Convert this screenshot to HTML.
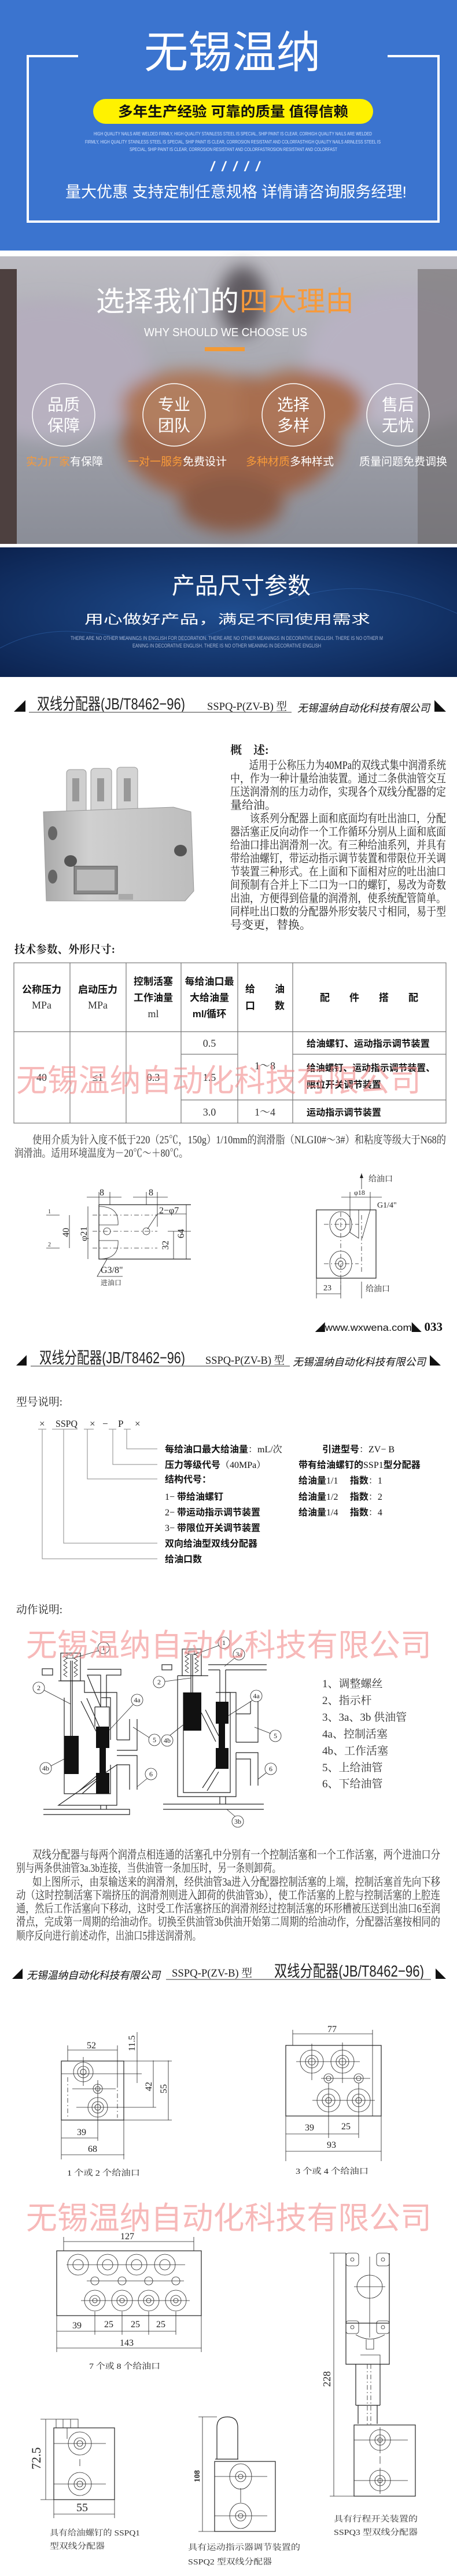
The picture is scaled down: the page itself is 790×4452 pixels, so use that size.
<!DOCTYPE html>
<html><head><meta charset="utf-8"><style>
html,body{margin:0;padding:0;background:#fff}
svg{display:block}
.s{font-family:"Liberation Sans","Noto Sans CJK SC",sans-serif}
.sf{font-family:"Liberation Serif","Noto Serif CJK SC",serif}
.b{font-weight:bold}
.ln{stroke:#222;stroke-width:1.2;fill:none}
.th{stroke:#222;stroke-width:0.8;fill:none}
.ds{stroke:#222;stroke-width:0.8;fill:none;stroke-dasharray:8 4 2 4}
.wm{font-family:"Liberation Sans","Noto Sans CJK SC",sans-serif;font-size:54px;fill:#f28c8c;opacity:.6}
</style></head><body>
<svg width="790" height="4452" viewBox="0 0 790 4452" xmlns="http://www.w3.org/2000/svg">
<defs>
<linearGradient id="pg" x1="0" y1="0" x2="0" y2="1"><stop offset="0" stop-color="#bcbbc2"/><stop offset="1" stop-color="#8a8d97"/></linearGradient>
<radialGradient id="dbg" cx="0.5" cy="0.5" r="0.7"><stop offset="0" stop-color="#1f4d8f"/><stop offset="1" stop-color="#0c2350"/></radialGradient>
<linearGradient id="mg" x1="0" y1="0" x2="1" y2="0"><stop offset="0" stop-color="#a9a9a9"/><stop offset="0.3" stop-color="#d0d0d0"/><stop offset="1" stop-color="#bdbdbd"/></linearGradient>
<filter id="bl"><feGaussianBlur stdDeviation="14"/></filter>
</defs>

<!-- Banner -->
<rect x="0" y="0" width="790" height="433" fill="#3b74cf"/>
<path d="M135 97 H48 V383 H758 V97 H670" stroke="#fff" stroke-width="4" fill="none"/>
<text class="s" x="249" y="117" font-size="76" fill="#fff" textLength="305" lengthAdjust="spacingAndGlyphs">无锡温纳</text>
<rect x="161" y="171" width="484" height="43" rx="21.5" fill="#fff200"/>
<text class="s b" x="204" y="201" font-size="24" fill="#111" textLength="398" lengthAdjust="spacingAndGlyphs">多年生产经验 可靠的质量 值得信赖</text>
<g class="s" font-size="8.5" fill="#d3e2ff">
<text x="162" y="234" textLength="481" lengthAdjust="spacingAndGlyphs">HIGH QUALITY NAILS ARE WELDED FIRMLY, HIGH QUALITY STAINLESS STEEL IS SPECIAL, SHIP PAINT IS CLEAR, CORHIGH QUALITY NAILS ARE WELDED</text>
<text x="147" y="248" textLength="511" lengthAdjust="spacingAndGlyphs">FIRMLY, HIGH QUALITY STAINLESS STEEL IS SPECIAL, SHIP PAINT IS CLEAR, CORROSION RESISTANT AND COLORFASTHIGH QUALITY NAILS ARINLESS STEEL IS</text>
<text x="224" y="261" textLength="359" lengthAdjust="spacingAndGlyphs">SPECIAL, SHIP PAINT IS CLEAR, CORROSION RESISTANT AND COLORFASTROSION RESISTANT AND COLORFAST</text>
</g>
<text class="s" x="363" y="296" font-size="24" fill="#fff" textLength="88" lengthAdjust="spacingAndGlyphs">/ / / / /</text>
<text class="s" x="113" y="341" font-size="27" fill="#fff" textLength="590" lengthAdjust="spacingAndGlyphs">量大优惠 支持定制任意规格 详情请咨询服务经理!</text>

<!-- Photo section -->
<rect x="0" y="443" width="790" height="497" fill="url(#pg)"/>
<g filter="url(#bl)">
<ellipse cx="90" cy="640" rx="170" ry="120" fill="#b4adbd"/>
<ellipse cx="700" cy="620" rx="170" ry="120" fill="#b8b2c2"/>
<ellipse cx="400" cy="760" rx="190" ry="110" fill="#9b6448"/>
<ellipse cx="330" cy="700" rx="120" ry="60" fill="#ad7656"/>
<ellipse cx="520" cy="700" rx="110" ry="60" fill="#a86e50"/>
<ellipse cx="400" cy="870" rx="90" ry="50" fill="#8a5a45"/>
<ellipse cx="420" cy="520" rx="40" ry="60" fill="#5e5a60"/>
</g>
<rect x="0" y="465" width="29" height="475" fill="#4d403f"/>
<rect x="722" y="465" width="68" height="475" fill="#6a6464" opacity=".55"/>
<text class="s" font-size="48" y="537" x="166"><tspan fill="#fff" textLength="247" lengthAdjust="spacingAndGlyphs">选择我们的</tspan><tspan fill="#f79a3a" x="414" textLength="198" lengthAdjust="spacingAndGlyphs">四大理由</tspan></text>
<text class="s" x="249" y="581" font-size="20" fill="#fff" textLength="282" lengthAdjust="spacingAndGlyphs">WHY SHOULD WE CHOOSE US</text>
<rect x="354" y="600" width="69" height="7" fill="#f39a35"/>
<g stroke="#fff" stroke-width="1.5" fill="rgba(255,255,255,0.06)">
<circle cx="110" cy="717" r="54"/><circle cx="301" cy="717" r="54"/><circle cx="507" cy="717" r="54"/><circle cx="688" cy="717" r="54"/>
</g>
<g class="s" font-size="28" fill="#fff" text-anchor="middle">
<text x="110" y="709">品质</text><text x="110" y="745">保障</text>
<text x="301" y="709">专业</text><text x="301" y="745">团队</text>
<text x="507" y="709">选择</text><text x="507" y="745">多样</text>
<text x="688" y="709">售后</text><text x="688" y="745">无忧</text>
</g>
<g class="s" font-size="19">
<text x="45" y="804"><tspan fill="#f79a3a">实力厂家</tspan><tspan fill="#fff">有保障</tspan></text>
<text x="221" y="804"><tspan fill="#f79a3a">一对一服务</tspan><tspan fill="#fff">免费设计</tspan></text>
<text x="425" y="804"><tspan fill="#f79a3a">多种材质</tspan><tspan fill="#fff">多种样式</tspan></text>
<text x="621" y="804" fill="#fff">质量问题免费调换</text>
</g>

<!-- Dark blue -->
<rect x="0" y="946" width="790" height="224" fill="url(#dbg)"/>
<path d="M0 1120 C150 1040 250 1160 400 1080 S650 1000 790 1060" stroke="#2f62aa" stroke-width="1" fill="none" opacity=".6"/>
<text class="s" x="297" y="1026" font-size="40" fill="#fff" textLength="240" lengthAdjust="spacingAndGlyphs">产品尺寸参数</text>
<text class="s" x="146" y="1078" font-size="22" fill="#fff" textLength="494" lengthAdjust="spacingAndGlyphs">用心做好产品，满足不同使用需求</text>
<g class="s" font-size="9" fill="#a9b8d6">
<text x="122" y="1106" textLength="540" lengthAdjust="spacingAndGlyphs">THERE ARE NO OTHER MEANINGS IN ENGLISH FOR DECORATION. THERE ARE NO OTHER MEANINGS IN DECORATIVE ENGLISH. THERE IS NO OTHER M</text>
<text x="229" y="1119" textLength="326" lengthAdjust="spacingAndGlyphs">EANING IN DECORATIVE ENGLISH. THERE IS NO OTHER MEANING IN DECORATIVE ENGLISH</text>
</g>

<!-- Header 1 -->
<polygon points="24,1230 44,1210 44,1230" fill="#111"/>
<text class="s" x="64" y="1226" font-size="28" fill="#222" textLength="256" lengthAdjust="spacingAndGlyphs">双线分配器(JB/T8462−96)</text>
<line x1="50" y1="1231" x2="504" y2="1231" stroke="#999" stroke-width="2"/>
<text class="sf" x="358" y="1227" font-size="19" fill="#222" textLength="138" lengthAdjust="spacingAndGlyphs">SSPQ-P(ZV-B) 型</text>
<text class="s" x="514" y="1230" font-size="18" font-style="italic" fill="#111" textLength="229" lengthAdjust="spacingAndGlyphs">无锡温纳自动化科技有限公司</text>
<polygon points="751,1210 751,1230 771,1230" fill="#111"/>

<!-- product photo -->
<g>
<rect x="115" y="1330" width="34" height="80" rx="6" fill="#cfcfcf" stroke="#999"/>
<rect x="157" y="1328" width="36" height="82" rx="6" fill="#d4d4d4" stroke="#999"/>
<rect x="202" y="1326" width="36" height="84" rx="6" fill="#d4d4d4" stroke="#999"/>
<rect x="125" y="1345" width="12" height="40" fill="#999"/><rect x="168" y="1345" width="12" height="40" fill="#999"/><rect x="214" y="1345" width="12" height="40" fill="#999"/>
<polygon points="75,1403 300,1395 330,1403 335,1540 320,1557 80,1557" fill="url(#mg)" stroke="#999"/>
<ellipse cx="91" cy="1440" rx="8" ry="12" fill="#666"/><ellipse cx="91" cy="1515" rx="8" ry="12" fill="#666"/>
<ellipse cx="122" cy="1488" rx="11" ry="10" fill="#555"/><ellipse cx="312" cy="1470" rx="11" ry="10" fill="#555"/>
<rect x="128" y="1497" width="75" height="48" fill="#888" stroke="#555"/>
<rect x="133" y="1503" width="65" height="36" fill="#bbb"/>
<rect x="205" y="1545" width="25" height="10" fill="#aaa"/>
</g>

<!-- Overview -->
<g class="sf" font-size="20" fill="#222">
<text x="398" y="1303" class="b" font-weight="bold">概　述:</text>
<text x="398" y="1329" textLength="373" lengthAdjust="spacingAndGlyphs">　　适用于公称压力为40MPa的双线式集中润滑系统</text>
<text x="398" y="1352" textLength="373" lengthAdjust="spacingAndGlyphs">中，作为一种计量给油装置。通过二条供油管交互</text>
<text x="398" y="1375" textLength="373" lengthAdjust="spacingAndGlyphs">压送润滑剂的压力动作，实现各个双线分配器的定</text>
<text x="398" y="1398">量给油。</text>
<text x="398" y="1421" textLength="373" lengthAdjust="spacingAndGlyphs">　　该系列分配器上面和底面均有吐出油口，分配</text>
<text x="398" y="1444" textLength="373" lengthAdjust="spacingAndGlyphs">器活塞正反向动作一个工作循环分别从上面和底面</text>
<text x="398" y="1467" textLength="373" lengthAdjust="spacingAndGlyphs">给油口排出润滑剂一次。有三种给油系列，并具有</text>
<text x="398" y="1490" textLength="373" lengthAdjust="spacingAndGlyphs">带给油螺钉，带运动指示调节装置和带限位开关调</text>
<text x="398" y="1513" textLength="373" lengthAdjust="spacingAndGlyphs">节装置三种形式。在上面和下面相对应的吐出油口</text>
<text x="398" y="1536" textLength="373" lengthAdjust="spacingAndGlyphs">间预制有合并上下二口为一口的螺钉，易改为奇数</text>
<text x="398" y="1559" textLength="373" lengthAdjust="spacingAndGlyphs">出油，方便得到倍量的润滑剂，使系统配管简单。</text>
<text x="398" y="1582" textLength="373" lengthAdjust="spacingAndGlyphs">同样吐出口数的分配器外形安装尺寸相同，易于型</text>
<text x="398" y="1605">号变更，替换。</text>
</g>
<text class="sf b" x="25" y="1647" font-size="19" fill="#222" textLength="174" lengthAdjust="spacingAndGlyphs">技术参数、外形尺寸:</text>

<!-- Table -->
<g stroke="#777" stroke-width="1.2" fill="none">
<rect x="24" y="1664" width="747" height="277"/>
<line x1="24" y1="1783" x2="771" y2="1783"/>
<line x1="121" y1="1664" x2="121" y2="1941"/><line x1="218" y1="1664" x2="218" y2="1941"/>
<line x1="313" y1="1664" x2="313" y2="1941"/><line x1="411" y1="1664" x2="411" y2="1941"/>
<line x1="506" y1="1664" x2="506" y2="1941"/>
<line x1="313" y1="1822" x2="411" y2="1822"/><line x1="506" y1="1822" x2="771" y2="1822"/>
<line x1="313" y1="1901" x2="771" y2="1901"/>
</g>
<g class="s b" font-size="17" fill="#111" text-anchor="middle">
<text x="72" y="1716">公称压力</text><text x="169" y="1716">启动压力</text>
<text x="265" y="1702">控制活塞</text><text x="265" y="1730">工作油量</text>
<text x="362" y="1702">每给油口最</text><text x="362" y="1730">大给油量</text><text x="362" y="1758">ml/循环</text>
<text x="458" y="1715">给　　油</text><text x="458" y="1744">口　　数</text>
<text x="638" y="1730">配　　件　　搭　　配</text>
</g>
<g class="sf" font-size="18" fill="#333" text-anchor="middle">
<text x="72" y="1743">MPa</text><text x="169" y="1743">MPa</text><text x="265" y="1758">ml</text>
<text x="72" y="1868">40</text><text x="169" y="1868">≤1</text><text x="265" y="1868">0.3</text>
<text x="362" y="1809">0.5</text><text x="362" y="1868">1.5</text><text x="362" y="1928">3.0</text>
<text x="458" y="1848">1～8</text><text x="458" y="1928">1～4</text>
</g>
<g class="s b" font-size="16" fill="#111">
<text x="530" y="1809" textLength="213" lengthAdjust="spacingAndGlyphs">给油螺钉、运动指示调节装置</text>
<text x="530" y="1851" textLength="222" lengthAdjust="spacingAndGlyphs">给油螺钉、运动指示调节装置、</text>
<text x="530" y="1880" textLength="129" lengthAdjust="spacingAndGlyphs">限位开关调节装置</text>
<text x="530" y="1928" textLength="129" lengthAdjust="spacingAndGlyphs">运动指示调节装置</text>
</g>
<text class="wm" x="28" y="1886" textLength="700" lengthAdjust="spacingAndGlyphs">无锡温纳自动化科技有限公司</text>
<g class="sf" font-size="19" fill="#333">
<text x="56" y="1976" textLength="715" lengthAdjust="spacingAndGlyphs">使用介质为针入度不低于220（25℃，150g）1/10mm的润滑脂（NLGI0#～3#）和粘度等级大于N68的</text>
<text x="25" y="1999" textLength="300" lengthAdjust="spacingAndGlyphs">润滑油。适用环境温度为－20℃～＋80℃。</text>
</g>

<!-- Drawing A -->
<g>
<path class="ln" d="M171 2082 H330 M171 2082 V2176 H272 M171 2176 H330"/>
<path class="th" d="M171 2085 C200 2085 205 2100 204 2117 H171 M171 2144 H204 C205 2160 200 2176 171 2176"/>
<circle class="th" cx="185" cy="2128" r="6"/><circle class="th" cx="253" cy="2128" r="6"/>
<path class="ds" d="M160 2100 H272 M160 2128 H272 M160 2157 H272"/>
<path class="th" d="M171 2060 V2082 M190 2060 V2082 M253 2060 V2082 M272 2060 V2120 M150 2069 H210 M230 2069 H290"/>
<path class="th" d="M120 2100 V2157 M152 2085 V2176 M300 2128 V2176 M322 2082 V2176 M290 2128 H330 M290 2176 H330"/>
<path class="th" d="M80 2100 H103 M80 2157 H103 M255 2124 L272 2098 H322 M185 2176 L168 2206 H212"/>
<g class="sf" font-size="16" fill="#222">
<text x="172" y="2066">8</text><text x="257" y="2066">8</text>
<text x="275" y="2097">2−φ7</text>
<text x="174" y="2200">G3/8"</text>
<text x="174" y="2221" font-size="12">进油口</text>
<text x="83" y="2097" font-size="10">1</text><text x="83" y="2154" font-size="10">2</text>
<text transform="translate(119,2138) rotate(-90)">40</text>
<text transform="translate(150,2145) rotate(-90)">φ21</text>
<text transform="translate(318,2140) rotate(-90)">64</text>
<text transform="translate(291,2160) rotate(-90)">32</text>
</g>
</g>
<!-- Drawing B -->
<g>
<rect class="ln" x="547" y="2091" width="103" height="118"/>
<ellipse class="th" cx="589" cy="2116" rx="19" ry="22"/><ellipse class="th" cx="589" cy="2116" rx="9" ry="10"/>
<ellipse class="th" cx="589" cy="2184" rx="19" ry="22"/><ellipse class="th" cx="589" cy="2184" rx="9" ry="10"/><ellipse class="th" cx="589" cy="2184" rx="4" ry="5"/>
<path class="th" d="M605 2091 V2130 L620 2140 V2091 M640 2091 L626 2140"/>
<path class="ds" d="M589 2095 V2230 M625 2100 V2200 M560 2116 H620 M560 2184 H620"/>
<path class="th" d="M625 2028 V2055 M605 2060 V2091 M640 2060 V2091 M590 2069 H660 M547 2209 V2244 M589 2209 V2244 M547 2236 H589 M625 2215 V2244"/>
<polygon points="622,2036 625,2028 628,2036" fill="#222"/>
<g class="sf" font-size="14" fill="#222">
<text x="637" y="2042">给油口</text><text x="612" y="2065" font-size="12">φ18</text>
<text x="652" y="2087">G1/4"</text><text x="559" y="2230">23</text><text x="632" y="2232">给油口</text>
</g>
</g>
<text class="s" x="765" y="2300" font-size="17" fill="#111" text-anchor="end"><tspan>◢</tspan><tspan textLength="150" lengthAdjust="spacingAndGlyphs">www.wxwena.com</tspan><tspan>◣ </tspan><tspan class="sf b" font-size="21">033</tspan></text>

<!-- Header 2 -->
<polygon points="28,2360 46,2342 46,2360" fill="#111"/>
<text class="s" x="68" y="2356" font-size="28" fill="#222" textLength="252" lengthAdjust="spacingAndGlyphs">双线分配器(JB/T8462−96)</text>
<line x1="53" y1="2361" x2="501" y2="2361" stroke="#999" stroke-width="2"/>
<text class="sf" x="355" y="2357" font-size="19" fill="#222" textLength="137" lengthAdjust="spacingAndGlyphs">SSPQ-P(ZV-B) 型</text>
<text class="s" x="506" y="2360" font-size="18" font-style="italic" fill="#111" textLength="230" lengthAdjust="spacingAndGlyphs">无锡温纳自动化科技有限公司</text>
<polygon points="743,2342 743,2360 762,2360" fill="#111"/>

<text class="sf" x="28" y="2429" font-size="19" fill="#222" textLength="80" lengthAdjust="spacingAndGlyphs">型号说明:</text>
<g class="sf" font-size="17" fill="#222">
<text x="68" y="2466">×</text><text x="96" y="2466" textLength="38" lengthAdjust="spacingAndGlyphs">SSPQ</text>
<text x="155" y="2466">×</text><text x="177" y="2466">−</text><text x="204" y="2466">P</text><text x="233" y="2466">×</text>
</g>
<path stroke="#888" stroke-width="1" fill="none" d="M66 2470 H80 M90 2470 H134 M145 2470 H162 M188 2470 H201 M214 2470 H226 M219 2470 V2504 H272 M195 2470 V2531 H272 M151 2470 V2556 H272 M110 2470 V2667 H272 M73 2470 V2694 H272"/>
<g class="s b" font-size="16" fill="#111">
<text x="285" y="2510">每给油口最大给油量<tspan class="sf" font-weight="normal">：mL/次</tspan></text>
<text x="285" y="2537">压力等级代号<tspan class="sf" font-weight="normal">（40MPa）</tspan></text>
<text x="285" y="2562">结构代号：</text>
<text x="285" y="2592"><tspan class="sf" font-weight="normal">1− </tspan>带给油螺钉</text>
<text x="285" y="2619"><tspan class="sf" font-weight="normal">2− </tspan>带运动指示调节装置</text>
<text x="285" y="2646"><tspan class="sf" font-weight="normal">3− </tspan>带限位开关调节装置</text>
<text x="285" y="2673">双向给油型双线分配器</text>
<text x="285" y="2700">给油口数</text>
<text x="557" y="2510">引进型号<tspan class="sf" font-weight="normal">：ZV− B</tspan></text>
<text x="516" y="2537">带有给油螺钉的<tspan class="sf" font-weight="normal">SSP1</tspan>型分配器</text>
<text x="516" y="2564">给油量<tspan class="sf" font-weight="normal">1/1　</tspan> 指数<tspan class="sf" font-weight="normal">：1</tspan></text>
<text x="516" y="2592">给油量<tspan class="sf" font-weight="normal">1/2　</tspan> 指数<tspan class="sf" font-weight="normal">：2</tspan></text>
<text x="516" y="2619">给油量<tspan class="sf" font-weight="normal">1/4　</tspan> 指数<tspan class="sf" font-weight="normal">：4</tspan></text>
</g>
<text class="sf" x="28" y="2788" font-size="19" fill="#222" textLength="80" lengthAdjust="spacingAndGlyphs">动作说明:</text>

<!-- Action diagrams -->
<g>
<!-- left -->
<rect class="ln" x="105" y="2857" width="34" height="48"/>
<path class="th" d="M110 2862 l6 4 -6 4 6 4 -6 4 6 4 -6 4 6 4 -6 4 6 4 M134 2862 l-6 4 6 4 -6 4 6 4 -6 4 6 4 -6 4 6 4 -6 4"/>
<rect class="th" x="116" y="2860" width="10" height="6"/>
<line class="ln" x1="122" y1="2870" x2="122" y2="3000"/><line class="ln" x1="125" y1="2870" x2="125" y2="3000"/>
<path class="ln" d="M101 2905 H146 V2925 H202 V3007 M202 3050 V3120 H101 Z"/>
<path class="ln" d="M111 2934 V3100 H191 V3050 M191 3007 V2934 H175"/>
<rect x="111" y="3000" width="25" height="66" fill="#111"/>
<rect x="166" y="2984" width="23" height="37" fill="#111"/><rect x="172" y="3021" width="11" height="43" fill="#111"/><rect x="166" y="3064" width="23" height="36" fill="#111"/>
<path class="ln" d="M151 2885 H209 V2895 H184 V2950 M174 2950 V2895 H151 Z M164 2950 H189 V2984 M164 2950 V2984"/>
<path class="ln" d="M140 2940 L166 2992 M150 2935 L172 2985 M137 3095 L166 3070 M142 3100 L170 3075"/>
<path class="ln" d="M202 3007 H224 V2971 M237 2971 V3025 H202 M202 3034 H237 V3093 M224 3093 V3050 H202"/>
<path class="ln" d="M75 3127 H224 V3136 H75 M174 3120 V3127 M184 3120 V3127"/>
<rect class="ln" x="73" y="2884" width="18" height="11"/>
<!-- middle -->
<rect class="ln" x="315" y="2850" width="33" height="46"/>
<path class="th" d="M320 2855 l6 4 -6 4 6 4 -6 4 6 4 -6 4 6 4 -6 4 6 4 M343 2855 l-6 4 6 4 -6 4 6 4 -6 4 6 4 -6 4 6 4 -6 4"/>
<rect class="th" x="326" y="2853" width="10" height="6"/>
<line class="ln" x1="330" y1="2860" x2="330" y2="2925"/><line class="ln" x1="333" y1="2860" x2="333" y2="2925"/>
<path class="ln" d="M307 2896 H360 M307 2896 V3105 H408 V3029 M408 3011 V2925 H390"/>
<path class="ln" d="M317 2925 V3098 H398 V2925 H373"/>
<rect x="317" y="2925" width="31" height="66" fill="#111"/>
<rect x="373" y="2941" width="22" height="38" fill="#111"/><rect x="378" y="2979" width="11" height="42" fill="#111"/><rect x="373" y="3021" width="22" height="36" fill="#111"/>
<path class="ln" d="M360 2877 H461 M360 2886 H380 M390 2886 H461 M380 2886 V2941 M390 2886 V2941"/>
<path class="ln" d="M348 2960 L373 3010 M355 2955 L378 3000 M350 3090 L373 3055 M358 3095 L378 3062"/>
<path class="ln" d="M408 2962 H433 M446 2962 V3011 H408 M433 2962 V2940 M446 2962 V2940 M408 3029 H446 V3086 M433 3086 V3040 H408"/>
<path class="ln" d="M282 3118 H456 M282 3127 H456 M380 3105 V3118 M390 3105 V3118"/>
<rect class="ln" x="280" y="2877" width="17" height="9"/>
<g class="th"><circle cx="179" cy="2848" r="10"/><circle cx="67" cy="2917" r="10"/><circle cx="237" cy="2938" r="10"/><circle cx="79" cy="3056" r="10"/><circle cx="267" cy="3007" r="10"/><circle cx="261" cy="3066" r="10"/>
<circle cx="387" cy="2839" r="10"/><circle cx="413" cy="2859" r="10"/><circle cx="275" cy="2907" r="10"/><circle cx="443" cy="2931" r="10"/><circle cx="289" cy="3008" r="10"/><circle cx="476" cy="3000" r="10"/><circle cx="468" cy="3057" r="10"/><circle cx="411" cy="3148" r="10"/>
<path d="M170 2853 L126 2866 M76 2921 L122 2945 M230 2946 L189 2990 M88 3052 L111 3040 M258 3003 L230 2985 M254 3074 L237 3088 M378 2844 L335 2860 M405 2866 L388 2880 M285 2906 L330 2900 M436 2939 L395 2965 M294 2999 L318 2980 M468 2996 L440 2985 M460 3064 L446 3075 M406 3139 L392 3127"/></g>
<g class="sf" font-size="12" fill="#222" text-anchor="middle">
<text x="179" y="2852">1</text><text x="67" y="2921">2</text><text x="237" y="2942">4a</text><text x="79" y="3060">4b</text><text x="267" y="3011">5</text><text x="261" y="3070">6</text>
<text x="387" y="2843">1</text><text x="413" y="2863">3a</text><text x="275" y="2911">2</text><text x="443" y="2935">4a</text><text x="289" y="3012">4b</text><text x="476" y="3004">5</text><text x="468" y="3061">6</text><text x="411" y="3152">3b</text>
</g>
</g>
<text class="wm" x="45" y="2862" textLength="701" lengthAdjust="spacingAndGlyphs">无锡温纳自动化科技有限公司</text>
<g class="sf" font-size="19" fill="#333">
<text x="557" y="2916">1、调整螺丝</text><text x="557" y="2945">2、指示杆</text><text x="557" y="2974">3、3a、3b 供油管</text>
<text x="557" y="3003">4a、控制活塞</text><text x="557" y="3032">4b、工作活塞</text><text x="557" y="3061">5、上给油管</text><text x="557" y="3089">6、下给油管</text>
</g>
<g class="sf" font-size="19.8" fill="#333">
<text x="56" y="3212" textLength="705" lengthAdjust="spacingAndGlyphs">双线分配器与每两个润滑点相连通的活塞孔中分别有一个控制活塞和一个工作活塞，两个进油口分</text>
<text x="28" y="3235" textLength="458" lengthAdjust="spacingAndGlyphs">别与两条供油管3a.3b连接，当供油管一条加压时，另一条则卸荷。</text>
<text x="56" y="3259" textLength="705" lengthAdjust="spacingAndGlyphs">如上图所示，由泵输送来的润滑剂，经供油管3a进入分配器控制活塞的上端，控制活塞首先向下移</text>
<text x="28" y="3282" textLength="733" lengthAdjust="spacingAndGlyphs">动（这时控制活塞下端挤压的润滑剂则进入卸荷的供油管3b），使工作活塞的上腔与控制活塞的上腔连</text>
<text x="28" y="3305" textLength="733" lengthAdjust="spacingAndGlyphs">通，然后工作活塞向下移动，这时受工作活塞挤压的润滑剂经过控制活塞的环形槽被压送到出油口6至润</text>
<text x="28" y="3328" textLength="733" lengthAdjust="spacingAndGlyphs">滑点，完成第一周期的给油动作。切换至供油管3b供油开始第二周期的给油动作，分配器活塞按相同的</text>
<text x="28" y="3352" textLength="320" lengthAdjust="spacingAndGlyphs">顺序反向进行前述动作，出油口5排送润滑剂。</text>
</g>

<!-- Header 3 -->
<polygon points="21,3420 39,3402 39,3420" fill="#111"/>
<text class="s" x="46" y="3420" font-size="18" font-style="italic" fill="#111" textLength="231" lengthAdjust="spacingAndGlyphs">无锡温纳自动化科技有限公司</text>
<text class="sf" x="297" y="3416" font-size="19" fill="#222" textLength="139" lengthAdjust="spacingAndGlyphs">SSPQ-P(ZV-B) 型</text>
<text class="s" x="474" y="3416" font-size="28" fill="#222" textLength="259" lengthAdjust="spacingAndGlyphs">双线分配器(JB/T8462−96)</text>
<line x1="287" y1="3421" x2="745" y2="3421" stroke="#999" stroke-width="2"/>
<polygon points="753,3402 753,3420 771,3420" fill="#111"/>

<!-- C1 -->
<g>
<rect class="ln" x="106" y="3562" width="108" height="102"/>
<circle class="th" cx="144" cy="3581" r="17"/><circle class="th" cx="144" cy="3581" r="10"/><circle class="th" cx="144" cy="3581" r="5"/>
<circle class="th" cx="169" cy="3610" r="8"/><circle class="th" cx="169" cy="3610" r="4"/>
<circle class="th" cx="169" cy="3642" r="17"/><circle class="th" cx="169" cy="3642" r="10"/><circle class="th" cx="169" cy="3642" r="5"/>
<path class="th" d="M106 3584 H245 M125 3610 H200 M132 3642 H270 M144 3555 V3605 M169 3595 V3700 M117 3535 V3562 M203 3535 V3600 M117 3543 H203 M214 3562 H297 M214 3664 H297 M237 3512 V3600 M265 3561 V3642 M291 3561 V3664 M106 3664 V3732 M214 3664 V3732 M106 3695 H169 M106 3724 H215"/>
<path class="ds" d="M117 3590 V3660 M203 3600 V3660"/>
<g class="sf" font-size="16" fill="#222">
<text x="150" y="3540">52</text><text x="133" y="3690">39</text><text x="152" y="3719">68</text>
<text transform="translate(233,3545) rotate(-90)">11.5</text>
<text transform="translate(262,3614) rotate(-90)">42</text>
<text transform="translate(288,3618) rotate(-90)">55</text>
<text x="116" y="3760" font-size="14" textLength="126" lengthAdjust="spacingAndGlyphs">1 个或 2 个给油口</text>
</g>
</g>
<!-- C2 -->
<g>
<rect class="ln" x="494" y="3535" width="165" height="122"/>
<g class="th">
<circle cx="539" cy="3563" r="20"/><circle cx="539" cy="3563" r="11"/><circle cx="539" cy="3563" r="6"/>
<circle cx="592" cy="3563" r="20"/><circle cx="592" cy="3563" r="11"/><circle cx="592" cy="3563" r="6"/>
<circle cx="568" cy="3592" r="8"/><circle cx="568" cy="3592" r="4"/><circle cx="620" cy="3592" r="8"/><circle cx="620" cy="3592" r="4"/>
<circle cx="568" cy="3630" r="20"/><circle cx="568" cy="3630" r="11"/><circle cx="568" cy="3630" r="5"/>
<circle cx="620" cy="3630" r="20"/><circle cx="620" cy="3630" r="11"/><circle cx="620" cy="3630" r="5"/>
<path d="M512 3563 H622 M555 3592 H640 M540 3630 H648 M539 3532 V3595 M592 3530 V3600 M568 3600 V3670 M620 3600 V3670 M506 3508 V3535 M644 3508 V3657 M506 3515 H644 M494 3657 V3735 M659 3657 V3735 M494 3688 H620 M568 3670 V3695 M620 3670 V3695 M494 3718 H659"/>
</g>
<g class="sf" font-size="16" fill="#222">
<text x="566" y="3512">77</text><text x="527" y="3682">39</text><text x="590" y="3680">25</text><text x="565" y="3712">93</text>
<text x="511" y="3757" font-size="14" textLength="126" lengthAdjust="spacingAndGlyphs">3 个或 4 个给油口</text>
</g>
</g>
<text class="wm" x="45" y="3852" textLength="701" lengthAdjust="spacingAndGlyphs">无锡温纳自动化科技有限公司</text>
<!-- C3 -->
<g>
<rect class="ln" x="98" y="3890" width="250" height="112"/>
<g class="th">
<circle cx="135" cy="3914" r="18"/><circle cx="135" cy="3914" r="9"/><circle cx="186" cy="3914" r="18"/><circle cx="186" cy="3914" r="9"/>
<circle cx="236" cy="3914" r="18"/><circle cx="236" cy="3914" r="9"/><circle cx="285" cy="3914" r="18"/><circle cx="285" cy="3914" r="9"/>
<circle cx="164" cy="3942" r="7"/><circle cx="211" cy="3942" r="7"/><circle cx="257" cy="3942" r="7"/><circle cx="304" cy="3942" r="7"/>
<circle cx="164" cy="3976" r="18"/><circle cx="164" cy="3976" r="9"/><circle cx="164" cy="3976" r="4"/>
<circle cx="211" cy="3976" r="18"/><circle cx="211" cy="3976" r="9"/><circle cx="211" cy="3976" r="4"/>
<circle cx="257" cy="3976" r="18"/><circle cx="257" cy="3976" r="9"/><circle cx="257" cy="3976" r="4"/>
<circle cx="304" cy="3976" r="18"/><circle cx="304" cy="3976" r="9"/><circle cx="304" cy="3976" r="4"/>
<path d="M115 3914 H320 M150 3942 H318 M140 3976 H328 M110 3866 V3890 M335 3866 V3890 M110 3874 H335 M98 4002 V4065 M348 4002 V4065 M164 3995 V4035 M211 3995 V4035 M257 3995 V4035 M304 3995 V4035 M98 4029 H304 M98 4058 H348"/>
</g>
<g class="sf" font-size="16" fill="#222">
<text x="208" y="3870">127</text><text x="125" y="4024">39</text><text x="180" y="4022">25</text><text x="226" y="4022">25</text><text x="270" y="4022">25</text><text x="207" y="4054">143</text>
<text x="154" y="4094" font-size="14" textLength="123" lengthAdjust="spacingAndGlyphs">7 个或 8 个给油口</text>
</g>
</g>
<!-- SSPQ3 tall -->
<g>
<path class="ln" d="M598 3894 V4086 H673 V3894 M598 4015 H673"/>
<rect class="th" x="598" y="3894" width="22" height="22" rx="4"/><rect class="th" x="651" y="3894" width="22" height="22" rx="4"/>
<rect class="th" x="598" y="4011" width="22" height="22" rx="4"/><rect class="th" x="651" y="4011" width="22" height="22" rx="4"/>
<circle class="th" cx="609" cy="3905" r="3"/><circle class="th" cx="662" cy="3905" r="3"/><circle class="th" cx="609" cy="4022" r="3"/><circle class="th" cx="662" cy="4022" r="3"/>
<ellipse class="th" cx="639" cy="3952" rx="22" ry="20"/><path class="th" d="M612 3952 H666 M639 3900 V4040"/>
<path class="th" d="M615 4035 Q640 4050 665 4035 M633 4043 V4060 H646 V4043 M623 4070 H657 V4086"/>
<path class="ln" d="M615 4086 V4157 M657 4086 V4157 M615 4157 H657 M619 4157 V4189 M652 4157 V4189"/>
<path class="ds" d="M635 4086 V4190 M641 4086 V4190"/>
<rect class="ln" x="612" y="4191" width="106" height="123"/>
<g class="th"><circle cx="657" cy="4217" r="18"/><circle cx="657" cy="4217" r="9"/><circle cx="657" cy="4217" r="4"/>
<circle cx="657" cy="4287" r="18"/><circle cx="657" cy="4287" r="9"/><circle cx="657" cy="4287" r="4"/>
<path d="M612 4217 H705 M612 4287 H705 M657 4195 V4240 M657 4265 V4310 M657 4245 V4258 M570 3894 H598 M570 4314 H612 M577 3894 V4314"/></g>
<text class="sf" transform="translate(571,4125) rotate(-90)" font-size="18" fill="#222">228</text>
<text class="sf" x="577" y="4358" font-size="14" fill="#333" textLength="145" lengthAdjust="spacingAndGlyphs">具有行程开关装置的</text>
<text class="sf" x="577" y="4381" font-size="14" fill="#333" textLength="145" lengthAdjust="spacingAndGlyphs">SSPQ3 型双线分配器</text>
</g>
<!-- SSPQ1 -->
<g>
<rect class="ln" x="93" y="4196" width="105" height="124"/>
<rect class="th" x="97" y="4181" width="38" height="15"/><path class="th" d="M109 4181 V4196 M122 4181 V4196 M116 4196 V4215"/>
<g class="th"><circle cx="138" cy="4223" r="20"/><circle cx="138" cy="4223" r="10"/><circle cx="138" cy="4223" r="5"/>
<circle cx="138" cy="4293" r="20"/><circle cx="138" cy="4293" r="10"/><circle cx="138" cy="4293" r="5"/>
<path d="M93 4223 H183 M93 4293 H183 M138 4250 V4262 M70 4181 H97 M70 4320 H93 M79 4181 V4320 M93 4320 V4352 M198 4320 V4352 M93 4345 H198"/></g>
<text class="sf" transform="translate(70,4268) rotate(-90)" font-size="22" fill="#222">72.5</text>
<text class="sf" x="132" y="4340" font-size="20" fill="#222">55</text>
<text class="sf" x="86" y="4382" font-size="14" fill="#333" textLength="156" lengthAdjust="spacingAndGlyphs">具有给油螺钉的 SSPQ1</text>
<text class="sf" x="86" y="4405" font-size="14" fill="#333" textLength="95" lengthAdjust="spacingAndGlyphs">型双线分配器</text>
</g>
<!-- SSPQ2 -->
<g>
<path class="ln" d="M375 4250 V4195 Q375 4177 393 4177 Q411 4177 411 4195 V4250 M372 4250 H412"/>
<rect class="ln" x="371" y="4254" width="105" height="121"/>
<g class="th"><ellipse cx="416" cy="4280" rx="19" ry="22"/><circle cx="416" cy="4280" r="9"/><circle cx="416" cy="4280" r="4"/>
<ellipse cx="416" cy="4348" rx="19" ry="22"/><circle cx="416" cy="4348" r="9"/><circle cx="416" cy="4348" r="4"/>
<path d="M371 4280 H462 M371 4348 H462 M416 4300 V4325 M343 4177 H375 M343 4375 H371 M350 4177 V4375"/></g>
<text class="sf b" transform="translate(345,4290) rotate(-90)" font-size="14" fill="#222">108</text>
<text class="sf" x="325" y="4407" font-size="14" fill="#333" textLength="194" lengthAdjust="spacingAndGlyphs">具有运动指示器调节装置的</text>
<text class="sf" x="325" y="4432" font-size="14" fill="#333" textLength="145" lengthAdjust="spacingAndGlyphs">SSPQ2 型双线分配器</text>
</g>
</svg>
</body></html>
